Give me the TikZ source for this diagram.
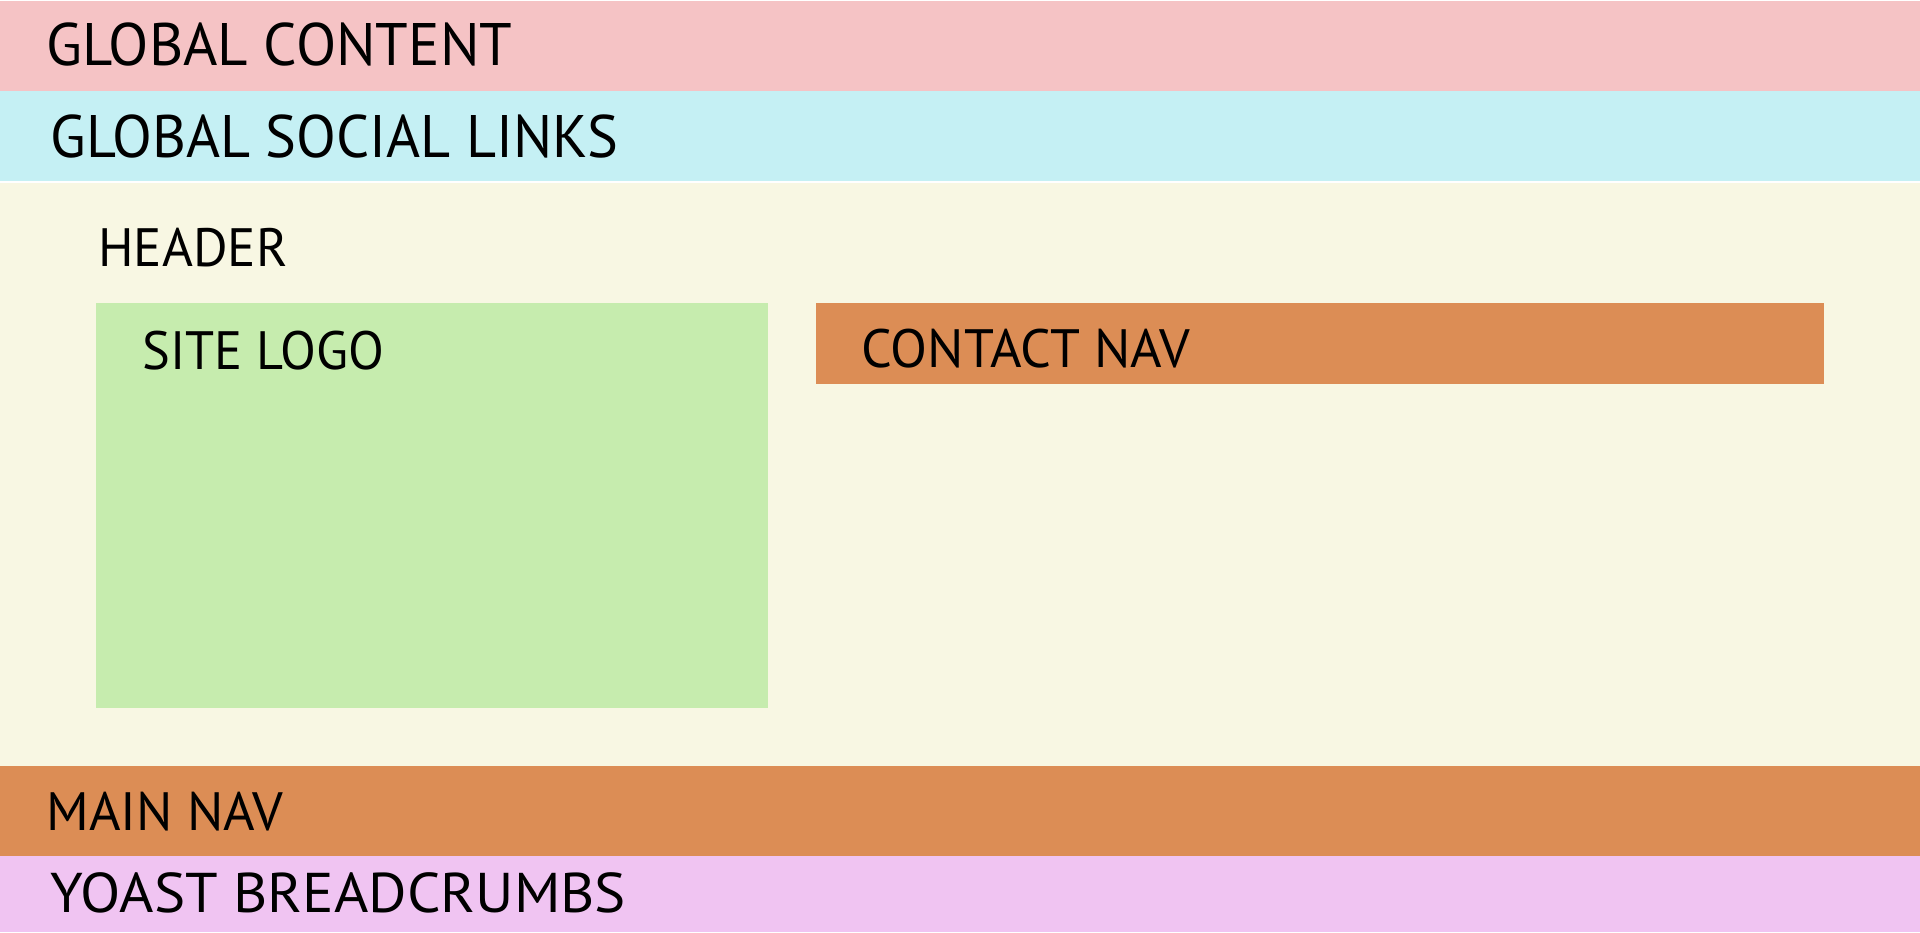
\documentclass[tikz,border=0pt]{standalone}
\usepackage{fontspec}
\setmainfont{PT Sans}
\definecolor{cpink}{RGB}{245,195,197}
\definecolor{ccyan}{RGB}{197,240,244}
\definecolor{ccream}{RGB}{248,247,227}
\definecolor{cgreen}{RGB}{198,236,174}
\definecolor{corange}{RGB}{220,141,85}
\definecolor{clilac}{RGB}{240,196,242}
\tikzset{
  big/.style={anchor=base west, inner sep=0pt, font=\fontsize{30}{36}\selectfont},
  mid/.style={anchor=base west, inner sep=0pt, font=\fontsize{27}{32}\selectfont},
}
\begin{document}
\begin{tikzpicture}[x=0.5pt,y=-0.5pt]
\useasboundingbox (0,0) rectangle (1920,932);
\fill[white] (0,0) rectangle (1920,932);
\fill[cpink] (0,1) rectangle (1920,91);
\fill[ccyan] (0,91) rectangle (1920,181);
\fill[ccream] (0,183) rectangle (1920,766);
\fill[cgreen] (96,303) rectangle (768,708);
\fill[corange] (816,303) rectangle (1824,384);
\fill[corange] (0,766) rectangle (1920,856);
\fill[clilac] (0,856) rectangle (1920,932);
\node[big] (gc) at (46,65) {\scalebox{0.98}[1]{GLOBAL CONTENT}};
\node[big] (gs) at (50,157) {\scalebox{0.97}[1]{GLOBAL SOCIAL LINKS}};
\node[mid] (hd) at (98,266) {\scalebox{0.98}[1]{HEADER}};
\node[mid] (sl) at (142,369) {\scalebox{0.97}[1]{SITE LOGO}};
\node[mid] (cn) at (861,367) {CONTACT NAV};
\node[mid] (mn) at (46,830) {MAIN NAV};
\node[mid, font=\fontsize{28}{33}\selectfont] (yb) at (50,912) {\scalebox{1.05}[1]{YOAST BREADCRUMBS}};
\end{tikzpicture}
\end{document}
